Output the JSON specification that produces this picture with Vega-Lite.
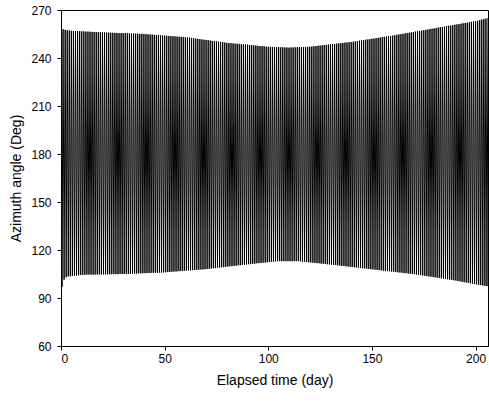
{
"$schema": "https://vega.github.io/schema/vega-lite/v6.json",
"width": 427, "height": 336,
"autosize": {"type": "none"},
"padding": {"left": 61, "top": 10, "right": 1, "bottom": 59},
"background": "white",
"config": {
 "view": {"stroke": "black", "strokeWidth": 1},
 "axis": {"grid": false, "domainColor": "black", "tickColor": "black", "labelColor": "black", "titleColor": "black", "labelFont": "Liberation Sans", "titleFont": "Liberation Sans", "labelFontSize": 12, "titleFontSize": 14, "titleFontWeight": "normal", "tickSize": 4}
},
"data": {"values": [
{"t":0,"a":268},{"t":0.5,"a":97},{"t":1,"a":258},{"t":1.5,"a":101.5},{"t":2,"a":257.6},{"t":2.5,"a":103},{"t":3,"a":257.4},{"t":3.5,"a":103.5},{"t":4,"a":257.2},{"t":4.5,"a":103.6},
{"t":5,"a":257},{"t":5.5,"a":103.8},{"t":6,"a":256.9},{"t":6.5,"a":103.9},{"t":7,"a":256.9},{"t":7.5,"a":104.1},{"t":8,"a":256.8},{"t":8.5,"a":104.2},{"t":9,"a":256.7},{"t":9.5,"a":104.4},
{"t":10,"a":256.7},{"t":10.5,"a":104.5},{"t":11,"a":256.6},{"t":11.5,"a":104.5},{"t":12,"a":256.5},{"t":12.5,"a":104.6},{"t":13,"a":256.5},{"t":13.5,"a":104.6},{"t":14,"a":256.4},{"t":14.5,"a":104.6},
{"t":15,"a":256.3},{"t":15.5,"a":104.6},{"t":16,"a":256.3},{"t":16.5,"a":104.7},{"t":17,"a":256.2},{"t":17.5,"a":104.7},{"t":18,"a":256.1},{"t":18.5,"a":104.7},{"t":19,"a":256.1},{"t":19.5,"a":104.7},
{"t":20,"a":256},{"t":20.5,"a":104.8},{"t":21,"a":256},{"t":21.5,"a":104.8},{"t":22,"a":255.9},{"t":22.5,"a":104.8},{"t":23,"a":255.9},{"t":23.5,"a":104.8},{"t":24,"a":255.8},{"t":24.5,"a":104.9},
{"t":25,"a":255.8},{"t":25.5,"a":104.9},{"t":26,"a":255.7},{"t":26.5,"a":104.9},{"t":27,"a":255.7},{"t":27.5,"a":104.9},{"t":28,"a":255.6},{"t":28.5,"a":105},{"t":29,"a":255.6},{"t":29.5,"a":105},
{"t":30,"a":255.5},{"t":30.5,"a":105},{"t":31,"a":255.5},{"t":31.5,"a":105.1},{"t":32,"a":255.4},{"t":32.5,"a":105.1},{"t":33,"a":255.4},{"t":33.5,"a":105.2},{"t":34,"a":255.3},{"t":34.5,"a":105.2},
{"t":35,"a":255.3},{"t":35.5,"a":105.3},{"t":36,"a":255.2},{"t":36.5,"a":105.3},{"t":37,"a":255.2},{"t":37.5,"a":105.4},{"t":38,"a":255.1},{"t":38.5,"a":105.4},{"t":39,"a":255.1},{"t":39.5,"a":105.5},
{"t":40,"a":255},{"t":40.5,"a":105.5},{"t":41,"a":254.9},{"t":41.5,"a":105.6},{"t":42,"a":254.8},{"t":42.5,"a":105.6},{"t":43,"a":254.7},{"t":43.5,"a":105.7},{"t":44,"a":254.6},{"t":44.5,"a":105.7},
{"t":45,"a":254.5},{"t":45.5,"a":105.8},{"t":46,"a":254.4},{"t":46.5,"a":105.8},{"t":47,"a":254.3},{"t":47.5,"a":105.9},{"t":48,"a":254.2},{"t":48.5,"a":105.9},{"t":49,"a":254.1},{"t":49.5,"a":106},
{"t":50,"a":254},{"t":50.5,"a":106.1},{"t":51,"a":253.9},{"t":51.5,"a":106.2},{"t":52,"a":253.8},{"t":52.5,"a":106.3},{"t":53,"a":253.7},{"t":53.5,"a":106.4},{"t":54,"a":253.6},{"t":54.5,"a":106.5},
{"t":55,"a":253.5},{"t":55.5,"a":106.6},{"t":56,"a":253.4},{"t":56.5,"a":106.7},{"t":57,"a":253.3},{"t":57.5,"a":106.8},{"t":58,"a":253.2},{"t":58.5,"a":106.9},{"t":59,"a":253.1},{"t":59.5,"a":107},
{"t":60,"a":253},{"t":60.5,"a":107.1},{"t":61,"a":252.8},{"t":61.5,"a":107.2},{"t":62,"a":252.7},{"t":62.5,"a":107.3},{"t":63,"a":252.5},{"t":63.5,"a":107.4},{"t":64,"a":252.3},{"t":64.5,"a":107.5},
{"t":65,"a":252.1},{"t":65.5,"a":107.6},{"t":66,"a":252},{"t":66.5,"a":107.7},{"t":67,"a":251.8},{"t":67.5,"a":107.8},{"t":68,"a":251.6},{"t":68.5,"a":107.9},{"t":69,"a":251.4},{"t":69.5,"a":108},
{"t":70,"a":251.3},{"t":70.5,"a":108.1},{"t":71,"a":251.1},{"t":71.5,"a":108.3},{"t":72,"a":250.9},{"t":72.5,"a":108.4},{"t":73,"a":250.7},{"t":73.5,"a":108.6},{"t":74,"a":250.6},{"t":74.5,"a":108.7},
{"t":75,"a":250.4},{"t":75.5,"a":108.9},{"t":76,"a":250.2},{"t":76.5,"a":109},{"t":77,"a":250},{"t":77.5,"a":109.2},{"t":78,"a":249.9},{"t":78.5,"a":109.3},{"t":79,"a":249.7},{"t":79.5,"a":109.5},
{"t":80,"a":249.5},{"t":80.5,"a":109.6},{"t":81,"a":249.4},{"t":81.5,"a":109.8},{"t":82,"a":249.3},{"t":82.5,"a":109.9},{"t":83,"a":249.1},{"t":83.5,"a":110.1},{"t":84,"a":249},{"t":84.5,"a":110.2},
{"t":85,"a":248.9},{"t":85.5,"a":110.4},{"t":86,"a":248.8},{"t":86.5,"a":110.5},{"t":87,"a":248.6},{"t":87.5,"a":110.7},{"t":88,"a":248.5},{"t":88.5,"a":110.8},{"t":89,"a":248.4},{"t":89.5,"a":111},
{"t":90,"a":248.3},{"t":90.5,"a":111.1},{"t":91,"a":248.1},{"t":91.5,"a":111.2},{"t":92,"a":248},{"t":92.5,"a":111.4},{"t":93,"a":247.9},{"t":93.5,"a":111.5},{"t":94,"a":247.8},{"t":94.5,"a":111.7},
{"t":95,"a":247.6},{"t":95.5,"a":111.8},{"t":96,"a":247.5},{"t":96.5,"a":111.9},{"t":97,"a":247.4},{"t":97.5,"a":112.1},{"t":98,"a":247.3},{"t":98.5,"a":112.2},{"t":99,"a":247.1},{"t":99.5,"a":112.3},
{"t":100,"a":247},{"t":100.5,"a":112.5},{"t":101,"a":247},{"t":101.5,"a":112.6},{"t":102,"a":246.9},{"t":102.5,"a":112.7},{"t":103,"a":246.9},{"t":103.5,"a":112.9},{"t":104,"a":246.8},{"t":104.5,"a":113},
{"t":105,"a":246.8},{"t":105.5,"a":113},{"t":106,"a":246.7},{"t":106.5,"a":113},{"t":107,"a":246.7},{"t":107.5,"a":113},{"t":108,"a":246.6},{"t":108.5,"a":113},{"t":109,"a":246.6},{"t":109.5,"a":113},
{"t":110,"a":246.5},{"t":110.5,"a":113},{"t":111,"a":246.6},{"t":111.5,"a":113},{"t":112,"a":246.6},{"t":112.5,"a":113},{"t":113,"a":246.7},{"t":113.5,"a":113},{"t":114,"a":246.7},{"t":114.5,"a":113},
{"t":115,"a":246.8},{"t":115.5,"a":112.9},{"t":116,"a":246.8},{"t":116.5,"a":112.7},{"t":117,"a":246.9},{"t":117.5,"a":112.6},{"t":118,"a":246.9},{"t":118.5,"a":112.5},{"t":119,"a":247},{"t":119.5,"a":112.3},
{"t":120,"a":247},{"t":120.5,"a":112.2},{"t":121,"a":247.2},{"t":121.5,"a":112.1},{"t":122,"a":247.3},{"t":122.5,"a":111.9},{"t":123,"a":247.5},{"t":123.5,"a":111.8},{"t":124,"a":247.6},{"t":124.5,"a":111.7},
{"t":125,"a":247.8},{"t":125.5,"a":111.5},{"t":126,"a":247.9},{"t":126.5,"a":111.4},{"t":127,"a":248.1},{"t":127.5,"a":111.3},{"t":128,"a":248.2},{"t":128.5,"a":111.1},{"t":129,"a":248.4},{"t":129.5,"a":111},
{"t":130,"a":248.5},{"t":130.5,"a":110.9},{"t":131,"a":248.7},{"t":131.5,"a":110.7},{"t":132,"a":248.8},{"t":132.5,"a":110.6},{"t":133,"a":249},{"t":133.5,"a":110.4},{"t":134,"a":249.1},{"t":134.5,"a":110.3},
{"t":135,"a":249.3},{"t":135.5,"a":110.1},{"t":136,"a":249.4},{"t":136.5,"a":110},{"t":137,"a":249.6},{"t":137.5,"a":109.8},{"t":138,"a":249.7},{"t":138.5,"a":109.7},{"t":139,"a":249.9},{"t":139.5,"a":109.5},
{"t":140,"a":250},{"t":140.5,"a":109.4},{"t":141,"a":250.2},{"t":141.5,"a":109.2},{"t":142,"a":250.4},{"t":142.5,"a":109.1},{"t":143,"a":250.6},{"t":143.5,"a":108.9},{"t":144,"a":250.8},{"t":144.5,"a":108.8},
{"t":145,"a":251},{"t":145.5,"a":108.6},{"t":146,"a":251.2},{"t":146.5,"a":108.5},{"t":147,"a":251.4},{"t":147.5,"a":108.3},{"t":148,"a":251.6},{"t":148.5,"a":108.2},{"t":149,"a":251.8},{"t":149.5,"a":108},
{"t":150,"a":252},{"t":150.5,"a":107.9},{"t":151,"a":252.2},{"t":151.5,"a":107.7},{"t":152,"a":252.4},{"t":152.5,"a":107.6},{"t":153,"a":252.6},{"t":153.5,"a":107.4},{"t":154,"a":252.8},{"t":154.5,"a":107.3},
{"t":155,"a":253},{"t":155.5,"a":107.1},{"t":156,"a":253.2},{"t":156.5,"a":107},{"t":157,"a":253.4},{"t":157.5,"a":106.8},{"t":158,"a":253.6},{"t":158.5,"a":106.7},{"t":159,"a":253.8},{"t":159.5,"a":106.5},
{"t":160,"a":254},{"t":160.5,"a":106.4},{"t":161,"a":254.2},{"t":161.5,"a":106.2},{"t":162,"a":254.5},{"t":162.5,"a":106.1},{"t":163,"a":254.7},{"t":163.5,"a":105.9},{"t":164,"a":254.9},{"t":164.5,"a":105.8},
{"t":165,"a":255.1},{"t":165.5,"a":105.6},{"t":166,"a":255.4},{"t":166.5,"a":105.5},{"t":167,"a":255.6},{"t":167.5,"a":105.3},{"t":168,"a":255.8},{"t":168.5,"a":105.2},{"t":169,"a":256},{"t":169.5,"a":105},
{"t":170,"a":256.3},{"t":170.5,"a":104.9},{"t":171,"a":256.5},{"t":171.5,"a":104.7},{"t":172,"a":256.7},{"t":172.5,"a":104.5},{"t":173,"a":256.9},{"t":173.5,"a":104.3},{"t":174,"a":257.2},{"t":174.5,"a":104.1},
{"t":175,"a":257.4},{"t":175.5,"a":103.9},{"t":176,"a":257.6},{"t":176.5,"a":103.7},{"t":177,"a":257.8},{"t":177.5,"a":103.5},{"t":178,"a":258.1},{"t":178.5,"a":103.3},{"t":179,"a":258.3},{"t":179.5,"a":103.1},
{"t":180,"a":258.5},{"t":180.5,"a":102.9},{"t":181,"a":258.7},{"t":181.5,"a":102.7},{"t":182,"a":259},{"t":182.5,"a":102.5},{"t":183,"a":259.2},{"t":183.5,"a":102.3},{"t":184,"a":259.4},{"t":184.5,"a":102.1},
{"t":185,"a":259.6},{"t":185.5,"a":101.9},{"t":186,"a":259.9},{"t":186.5,"a":101.7},{"t":187,"a":260.1},{"t":187.5,"a":101.5},{"t":188,"a":260.3},{"t":188.5,"a":101.3},{"t":189,"a":260.5},{"t":189.5,"a":101.1},
{"t":190,"a":260.8},{"t":190.5,"a":100.9},{"t":191,"a":261},{"t":191.5,"a":100.6},{"t":192,"a":261.2},{"t":192.5,"a":100.4},{"t":193,"a":261.4},{"t":193.5,"a":100.2},{"t":194,"a":261.7},{"t":194.5,"a":99.9},
{"t":195,"a":261.9},{"t":195.5,"a":99.7},{"t":196,"a":262.1},{"t":196.5,"a":99.5},{"t":197,"a":262.3},{"t":197.5,"a":99.2},{"t":198,"a":262.6},{"t":198.5,"a":99},{"t":199,"a":262.8},{"t":199.5,"a":98.8},
{"t":200,"a":263},{"t":200.5,"a":98.5},{"t":201,"a":263.3},{"t":201.5,"a":98.3},{"t":202,"a":263.7},{"t":202.5,"a":98.1},{"t":203,"a":264},{"t":203.5,"a":97.8},{"t":204,"a":264.3},{"t":204.5,"a":97.6},
{"t":205,"a":264.7},{"t":205.5,"a":97.4},{"t":206,"a":265}
]},
"mark": {"type": "line", "color": "black", "strokeWidth": 1.0, "clip": true},
"encoding": {
 "x": {"field": "t", "type": "quantitative", "title": "Elapsed time (day)",
  "scale": {"domain": [0, 206], "nice": false, "zero": false},
  "axis": {"values": [0, 50, 100, 150, 200], "labelPadding": 3, "titlePadding": 9}},
 "y": {"field": "a", "type": "quantitative", "title": "Azimuth angle (Deg)",
  "scale": {"domain": [60, 270], "nice": false, "zero": false},
  "axis": {"values": [60, 90, 120, 150, 180, 210, 240, 270], "labelPadding": 6, "titlePadding": 7}}
}
}
